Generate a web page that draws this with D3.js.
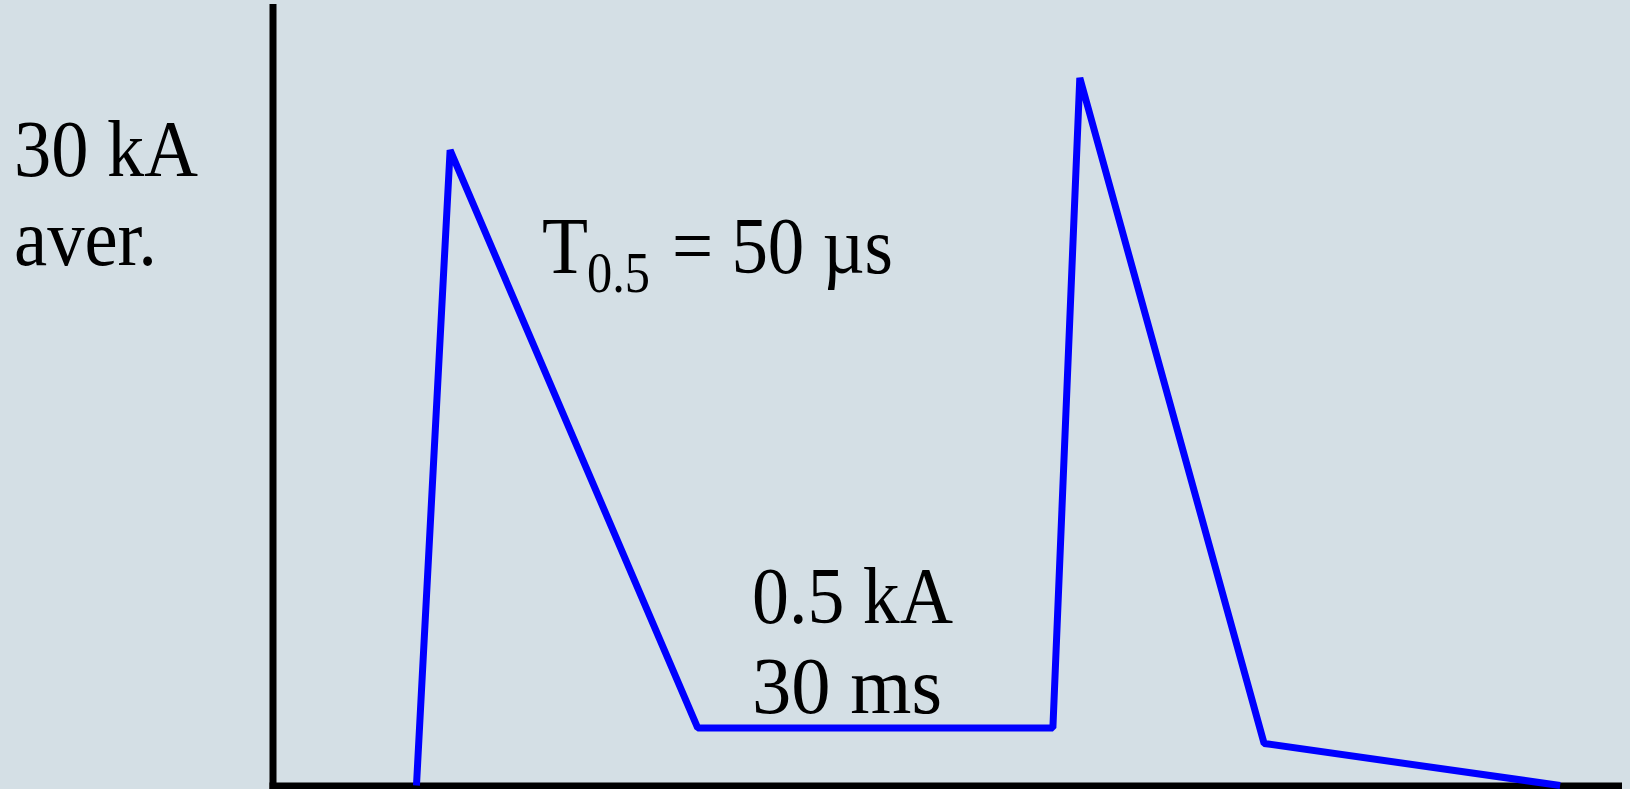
<!DOCTYPE html>
<html>
<head>
<meta charset="utf-8">
<script src="https://cdn.jsdelivr.net/npm/d3@7"></script>
<style>
  html, body { margin: 0; padding: 0; background: #d4dfe5; }
  svg { display: block; }
  text { font-family: "Liberation Serif", "DejaVu Serif", serif; fill: #000; }
</style>
</head>
<body>
<svg id="chart" width="1630" height="789"></svg>
<script>
// Schematic lightning-current waveform (relative time / relative current units)
const timeUnits    = [10.7, 13.2, 31.6, 58.0, 60.0, 73.7, 95.7];
const currentUnits = [0,    81.6, 7.4,  7.4,  90.9, 5.4,  0];

// Annotation texts
const peakLabel  = ["30 kA", "aver."];
const halfLabel  = ["T", "0.5", "= 50 µs"];
const flatLabel  = ["0.5 kA", "30 ms"];

const svg = d3.select("#chart");
const W = 1630, H = 789;

const x = d3.scaleLinear().domain([0, 100]).range([272.5, 1618]);
const y = d3.scaleLinear().domain([0, 100]).range([785.5, 7]);

// Axes: bare heavy lines, no ticks
const xAxis = svg.append("g")
  .attr("transform", `translate(0,${y(0)})`)
  .call(d3.axisBottom(x).tickValues([]).tickSizeOuter(0));
const yAxis = svg.append("g")
  .attr("transform", `translate(${x(0)},0)`)
  .call(d3.axisLeft(y).tickValues([]).tickSizeOuter(0));
svg.selectAll(".domain")
  .attr("stroke", "#000")
  .attr("stroke-width", 7)
  .attr("stroke-linecap", "square");

// Waveform
const pts = timeUnits.map((t, i) => [t, currentUnits[i]]);
svg.append("path")
  .datum(pts)
  .attr("fill", "none")
  .attr("stroke", "#0000ff")
  .attr("stroke-width", 7)
  .attr("stroke-linejoin", "bevel")
  .attr("d", d3.line().x(d => x(d[0])).y(d => y(d[1])));

// Labels
function label(str, px, py, size, len) {
  svg.append("text")
    .attr("x", px).attr("y", py)
    .attr("font-size", size)
    .attr("textLength", len)
    .attr("lengthAdjust", "spacingAndGlyphs")
    .text(str);
}
label(peakLabel[0], 14, 176, 80, 184);
label(peakLabel[1], 14, 265, 80, 143);

label(halfLabel[0], 542, 273, 80, 46);
label(halfLabel[1], 587, 292, 58, 63);
label(halfLabel[2], 672, 273, 80, 221);

label(flatLabel[0], 752, 623, 80, 201);
label(flatLabel[1], 752, 713, 80, 190);
</script>
</body>
</html>
